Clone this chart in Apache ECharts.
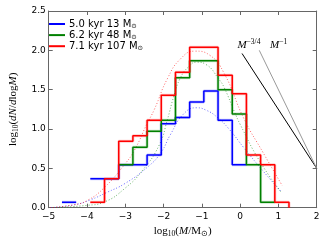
<!DOCTYPE html>
<html><head><meta charset="utf-8">
<script src="https://cdn.jsdelivr.net/npm/echarts@6/dist/echarts.min.js"></script>
<style>html,body{margin:0;padding:0;background:#fff}#c{width:327px;height:245px}</style>
</head><body><div id="c"></div>
<script>
// bin edges in log10(M/Msun)
const binEdges = [-4.654, -4.283, -3.913, -3.542, -3.171, -2.801, -2.430, -2.060, -1.689, -1.318, -0.948, -0.577, -0.206, 0.164, 0.535, 0.906, 1.276];
// log10(dN/dlogM) per bin, null = empty bin
const blueHist  = [0.069, null, 0.367, 0.367, 0.546, 0.546, 0.670, 1.068, 1.147, 1.342, 1.484, 1.110, 0.546, null, null, null];
const greenHist = [null, null, null, null, 0.546, 0.768, 0.972, 1.110, 1.652, 1.868, 1.868, 1.500, 1.190, 0.546, 0.069, null];
const redHist   = [null, null, 0.069, 0.367, 0.846, 0.913, 1.110, 1.430, 1.722, 2.040, 2.040, 1.682, 1.449, 0.670, 0.546, 0.069];
// dotted fit curves [log10 M, log10 dN/dlogM]
const blueFit  = [[-4.95,0.0],[-4.3,0.04],[-3.91,0.1],[-3.5,0.19],[-3.0,0.31],[-2.41,0.52],[-2.07,0.7],[-1.82,0.93],[-1.48,1.19],[-1.14,1.27],[-0.89,1.24],[-0.6,1.15],[-0.29,1.0],[0.1,0.76],[0.61,0.46],[1.08,0.2]];
const greenFit = [[-4.9,0.0],[-4.0,0.03],[-3.56,0.07],[-3.0,0.25],[-2.54,0.48],[-2.11,0.8],[-1.9,1.12],[-1.73,1.42],[-1.56,1.65],[-1.35,1.79],[-1.14,1.85],[-0.89,1.82],[-0.55,1.63],[-0.41,1.52],[-0.15,1.22],[0.0,1.06],[0.5,0.6],[1.08,0.19]];
const redFit   = [[-4.96,0.0],[-4.36,0.035],[-4.0,0.09],[-3.56,0.25],[-3.0,0.56],[-2.75,0.74],[-2.45,1.05],[-2.24,1.25],[-1.9,1.64],[-1.56,1.89],[-1.18,1.99],[-0.8,1.94],[-0.42,1.71],[0.1,1.13],[0.6,0.7],[1.1,0.28]];
// power-law guide lines
const slope34Line = [[0.05,1.96],[2.0,0.5]];
const slope1Line  = [[0.5,2.0],[2.0,0.5]];
const seriesNames = ['5.0 kyr 13 M', '6.2 kyr 48 M', '7.1 kyr 107 M'];

function steps(vals, dropEnd) {
  const pts = []; let prev = null; let last = null;
  for (let i = 0; i < vals.length; i++) {
    const v = vals[i];
    if (v == null) { if (prev != null) pts.push([binEdges[i], '-']); prev = null; continue; }
    pts.push([binEdges[i], v]);
    pts.push([binEdges[i+1], v]);
    prev = v; last = i;
  }
  if (dropEnd) pts.push([binEdges[last+1], 0]);
  return pts;
}
const colors = ['#0000ff', '#008000', '#ff0000'];
const hists = [steps(blueHist,false), steps(greenHist,false), steps(redHist,true)];
const fits = [blueFit, greenFit, redFit];

const series = [];
fits.forEach((f,i)=>series.push({type:'line', name:'fit'+i, data:f, smooth:true, symbol:'none', silent:true,
  lineStyle:{color:colors[i], width:1, type:[1,2], opacity:0.6}, z:1}));
hists.forEach((h,i)=>series.push({type:'line', name:'under'+i, data:h, symbol:'none', silent:true, connectNulls:false,
  lineStyle:{color:colors[i], width:3, opacity:0.2}, z:2}));
hists.forEach((h,i)=>series.push({type:'line', name:seriesNames[i], data:h, symbol:'none', connectNulls:false,
  itemStyle:{color:colors[i]}, lineStyle:{color:colors[i], width:1.5}, z:3}));
series.push({type:'line', name:'p34', data:slope34Line, symbol:'none', silent:true, lineStyle:{color:'#000', width:1}, z:2});
series.push({type:'line', name:'p1', data:slope1Line, symbol:'none', silent:true, lineStyle:{color:'#999', width:1}, z:2});

const serif = 'Liberation Serif';
const mathRich = {
  n:{fontFamily:serif, fontSize:11, lineHeight:14, verticalAlign:'middle', color:'#000'},
  i:{fontFamily:serif, fontSize:11, fontStyle:'italic', lineHeight:14, verticalAlign:'middle', color:'#000'},
  sub:{fontFamily:serif, fontSize:7.5, lineHeight:7, verticalAlign:'bottom', color:'#000'},
  sup:{fontFamily:serif, fontSize:7.5, lineHeight:7, verticalAlign:'top', color:'#000'}
};
const axisCol = '#666';
const chart = echarts.init(document.getElementById('c'), null, {renderer:'canvas'});
chart.setOption({
  animation:false,
  grid:{left:41.6, right:10.3, top:11, bottom:37.3, containLabel:false},
  legend:{data:seriesNames, orient:'vertical', left:44, top:14, itemGap:0, itemWidth:16, itemHeight:2, icon:'rect',
    formatter: n => '{t|'+n+'}{s|⊙}',
    textStyle:{fontFamily:'DejaVu Sans', fontSize:10, color:'#000', padding:[0,0,0,-1],
      rich:{t:{fontFamily:'DejaVu Sans', fontSize:10, lineHeight:12.2, verticalAlign:'middle', color:'#000'},
            s:{fontFamily:'DejaVu Sans', fontSize:6.5, lineHeight:6, verticalAlign:'bottom', color:'#000'}}}},
  xAxis:[{type:'value', min:-5, max:2, interval:1, position:'bottom',
    axisLine:{onZero:false, lineStyle:{color:axisCol}}, axisTick:{inside:true, length:4, lineStyle:{color:axisCol}},
    splitLine:{show:false},
    axisLabel:{margin:4, fontFamily:'DejaVu Sans', fontSize:9, color:'#000', formatter:v=>v<0?'\u2212'+(-v):''+v},
    name:'{n|log}{sub|10}{n|(}{i|M}{n|/M}{sub|⊙}{n|)}', nameLocation:'middle', nameGap:14,
    nameTextStyle:{rich:mathRich}},
   {type:'value', min:-5, max:2, interval:1, position:'top', axisLine:{onZero:false, lineStyle:{color:axisCol}},
    axisTick:{inside:true, length:4, lineStyle:{color:axisCol}}, axisLabel:{show:false}, splitLine:{show:false}}],
  yAxis:[{type:'value', min:0, max:2.5, interval:0.5, position:'left',
    axisLine:{show:true, onZero:false, lineStyle:{color:axisCol}}, axisTick:{show:true, inside:true, length:4, lineStyle:{color:axisCol}},
    splitLine:{show:false},
    axisLabel:{margin:3, fontFamily:'DejaVu Sans', fontSize:9, color:'#000', formatter:v=>v.toFixed(1)},
    name:'{n|log}{sub|10}{n|(}{i|dN}{n|/}{i|d}{n|log}{i|M}{n|)}', nameLocation:'middle', nameGap:20,
    nameTextStyle:{rich:mathRich}},
   {type:'value', min:0, max:2.5, interval:0.5, position:'right', axisLine:{show:true, onZero:false, lineStyle:{color:axisCol}},
    axisTick:{show:true, inside:true, length:4, lineStyle:{color:axisCol}}, axisLabel:{show:false}, splitLine:{show:false}}],
  series: series
});
const labelRich = {
  i:{fontFamily:serif, fontSize:11, fontStyle:'italic', lineHeight:14, verticalAlign:'middle', fill:'#000', color:'#000'},
  sup:{fontFamily:serif, fontSize:7.5, lineHeight:7, verticalAlign:'top', fill:'#000', color:'#000'}
};
const pA = chart.convertToPixel({gridIndex:0}, [-0.07, 2.07]);
const pB = chart.convertToPixel({gridIndex:0}, [0.78, 2.07]);
chart.setOption({graphic:[
  {type:'text', x:pA[0], y:pA[1], style:{text:'{i|M}{sup|\u22123/4}', rich:labelRich, verticalAlign:'middle'}},
  {type:'text', x:pB[0], y:pB[1], style:{text:'{i|M}{sup|\u22121}', rich:labelRich, verticalAlign:'middle'}}
]});
</script></body></html>
